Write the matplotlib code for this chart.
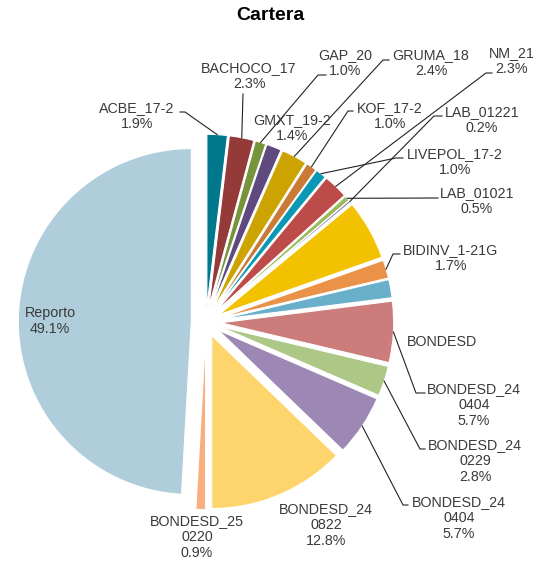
import matplotlib
matplotlib.use("Agg")
import matplotlib.pyplot as plt
import numpy as np

# slice data, clockwise from 12 o'clock
names = ["ACBE_17-2", "BACHOCO_17", "GAP_20", "GMXT_19-2", "GRUMA_18", "KOF_17-2",
         "LIVEPOL_17-2", "NM_21", "LAB_01021", "LAB_01221", "", "BIDINV_1-21G",
         "BONDESD", "BONDESD_24\n0404", "BONDESD_24\n0229", "BONDESD_24\n0404",
         "BONDESD_24\n0822", "BONDESD_25\n0220", "Reporto"]
values = [1.9, 2.3, 1.0, 1.4, 2.4, 1.0, 1.0, 2.3, 0.5, 0.2, 5.6, 1.7,
          1.7, 5.7, 2.8, 5.7, 12.8, 0.9, 49.1]
show_pct = [True] * 10 + [False, True, False] + [True] * 6
colors = ["#00778B", "#943B3A", "#77933C", "#5F4A7F", "#CCA300", "#C97B35",
          "#0B98B5", "#BC4B49", "#9BBB59", "#8064A2", "#F2C200", "#EA9248",
          "#6AAFC9", "#CD7C7C", "#ADC787", "#9D88B5", "#FED46C", "#F9AE80",
          "#AFCDDA"]

# label layout in pixel coords (x, y from top): text centre, leader elbow, tail
W, H = 543, 562
text_pos = [(137, 116), (249, 76), (345, 63), (292, 128), (431, 63), (390, 116),
            (455, 162), (512, 61), (477, 201), (482, 120), None, (451, 258),
            (442, 342), (474, 405), (475, 461), (459, 518), (326, 525),
            (197, 537), (50, 321)]
leaders = [(185, 112, -5), (243, 94, 0), (318, 75, 8), None, (383, 60, 6),
           (348, 111, 5), (396, 158, 7), (486, 73, 6), (438, 198, 0),
           (434, 116, 8), None, (393, 254, 7), None, (416, 393, 9),
           (420, 449, 5), (403, 505, 5), None, None, None]

cx, cy, R = 206, 322, 173
fig = plt.figure(figsize=(W / 100, H / 100), dpi=100)
ax = fig.add_axes([0, 0, 1, 1])

wedges, _ = ax.pie(values, colors=colors, startangle=90, counterclock=False,
                   center=(cx, H - cy), radius=R,
                   explode=[0.085 * R] * len(values),
                   wedgeprops=dict(edgecolor="white", linewidth=0.8))
ax.set_xlim(0, W)
ax.set_ylim(0, H)
ax.set_aspect("equal")
ax.axis("off")

txt_color = "#3A3A3A"
for w, name, v, sp, tp, ld in zip(wedges, names, values, show_pct, text_pos, leaders):
    if tp is not None:
        s = name + ("\n%.1f%%" % v if sp else "")
        ax.text(tp[0], H - tp[1], s, ha="center", va="center", multialignment="center",
                fontsize=10.3, family="Liberation Sans", color=txt_color, linespacing=1.15)
    if ld is not None:
        mid = np.deg2rad((w.theta1 + w.theta2) / 2)
        ax0 = w.center[0] + w.r * np.cos(mid)
        ay0 = w.center[1] + w.r * np.sin(mid)
        ex, ey, tail = ld
        ax.plot([ax0, ex, ex + tail], [ay0, H - ey, H - ey], color="#222222", lw=0.8)

fig.text(270 / W, 1 - 16 / H, "Cartera", ha="center", va="center", fontsize=14,
         fontweight="bold", family="Liberation Sans")

fig.savefig("out.png", dpi=100)
